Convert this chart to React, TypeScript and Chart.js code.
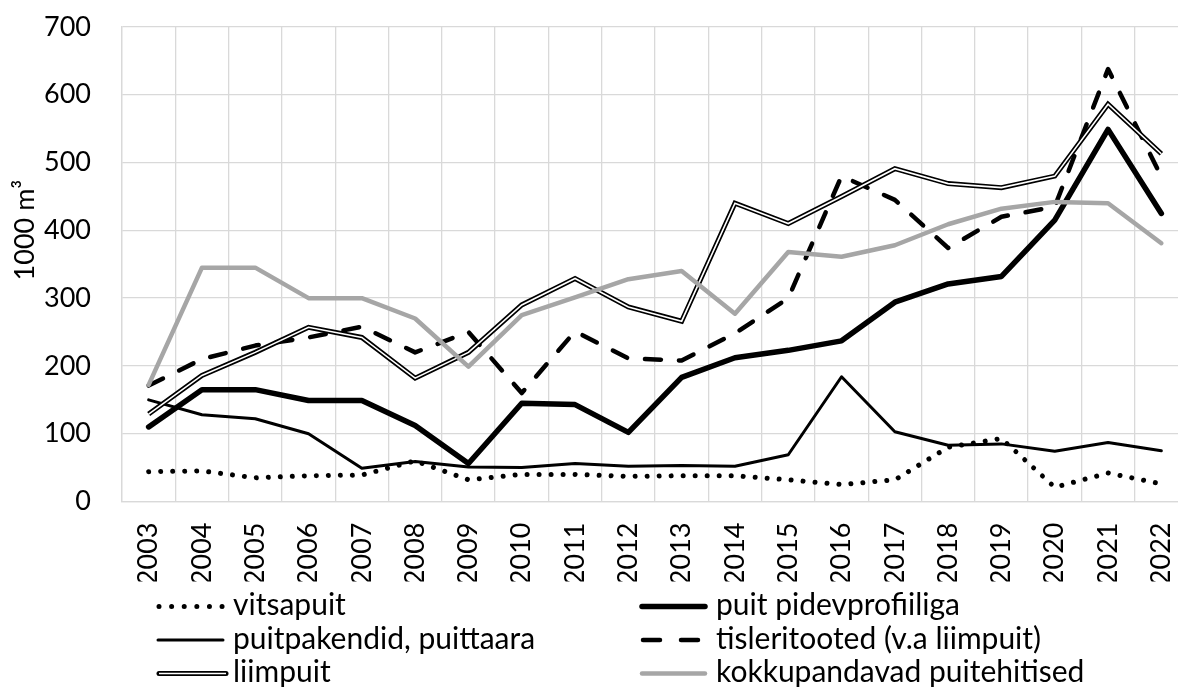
import React, { useEffect, useRef } from "react";
import { Chart, registerables } from "chart.js";

Chart.register(...registerables);

const years = ["2003","2004","2005","2006","2007","2008","2009","2010","2011","2012","2013","2014","2015","2016","2017","2018","2019","2020","2021","2022"];
const vitsapuit = [44, 45, 35, 38, 39, 60, 32, 40, 40, 37, 38, 38, 32, 25, 32, 80, 93, 21, 42, 26];
const puitPidevprofiiliga = [110, 165, 165, 149, 149, 112, 56, 145, 143, 102, 183, 212, 223, 237, 294, 321, 332, 415, 549, 425];
const puitpakendid = [150, 128, 122, 100, 49, 59, 51, 50, 56, 52, 53, 52, 69, 184, 103, 83, 85, 74, 87, 75];
const tisleritooted = [171, 210, 230, 242, 258, 220, 250, 160, 251, 211, 208, 248, 300, 480, 445, 374, 420, 435, 638, 479];
const liimpuit = [129, 186, 220, 257, 242, 182, 220, 290, 329, 287, 266, 440, 410, 450, 491, 469, 463, 480, 586, 513];
const kokkupandavad = [172, 345, 345, 300, 300, 270, 199, 275, 301, 328, 340, 277, 368, 361, 378, 409, 432, 442, 440, 381];
const yTicks = [0, 100, 200, 300, 400, 500, 600, 700];
const yTitle = "1000 m³";

const FONT = "Lato, 'Noto Sans', sans-serif";

type LegendSpec = { label: string; kind: string };
const legendItems: LegendSpec[] = [
  { label: "vitsapuit", kind: "dot" },
  { label: "puit pidevprofiiliga", kind: "thick" },
  { label: "puitpakendid, puittaara", kind: "thin" },
  { label: "tisleritooted (v.a liimpuit)", kind: "dash" },
  { label: "liimpuit", kind: "double" },
  { label: "kokkupandavad puitehitised", kind: "grey" },
];

const customPlugin = {
  id: "customDecor",
  afterDraw(chart: any) {
    const ctx = chart.ctx as CanvasRenderingContext2D;
    ctx.save();
    ctx.translate(25, 230);
    ctx.rotate(-Math.PI / 2);
    ctx.fillStyle = "#000";
    ctx.font = `27px ${FONT}`;
    ctx.textAlign = "center";
    ctx.textBaseline = "middle";
    ctx.fillText(yTitle, 0, 0);
    ctx.restore();

    const colX = [157, 640];
    const rowBase = [615, 648.5, 682];
    legendItems.forEach((item, i) => {
      const col = i % 2;
      const row = Math.floor(i / 2);
      const x0 = colX[col];
      const x1 = x0 + 67;
      const yl = rowBase[row] - 8.5;
      ctx.save();
      ctx.lineJoin = "miter";
      const seg = (color: string, w: number, dash: number[], cap: CanvasLineCap, a = x0, b = x1) => {
        ctx.beginPath();
        ctx.strokeStyle = color;
        ctx.lineWidth = w;
        ctx.setLineDash(dash);
        ctx.lineCap = cap;
        ctx.moveTo(a, yl);
        ctx.lineTo(b, yl);
        ctx.stroke();
      };
      if (item.kind === "dot") seg("#000", 5, [0.01, 12.6], "round", x0 + 2, x1);
      if (item.kind === "thick") seg("#000", 5.5, [], "round", x0 + 2, x1 - 2);
      if (item.kind === "thin") seg("#000", 3, [], "round", x0 + 1, x1 - 1);
      if (item.kind === "dash") seg("#000", 4.5, [17, 21], "round", x0 + 3, x1);
      if (item.kind === "double") {
        seg("#000", 5, [], "round", x0 + 2, x1 + 2);
        seg("#fff", 1.6, [], "butt", x0 + 2, x1 + 2);
      }
      if (item.kind === "grey") seg("#A6A6A6", 4.5, [], "round", x0 + 2, x1 - 2);
      ctx.restore();
      ctx.save();
      ctx.fillStyle = "#000";
      ctx.font = `30px ${FONT}`;
      ctx.textAlign = "left";
      ctx.textBaseline = "alphabetic";
      ctx.fillText(item.label, x0 + 76, rowBase[row]);
      ctx.restore();
    });
  },
};

export default function App() {
  const ref = useRef<HTMLCanvasElement | null>(null);
  useEffect(() => {
    if (!ref.current) return;
    const base = { pointRadius: 0, pointHoverRadius: 0, fill: false, tension: 0 };
    const chart = new Chart(ref.current, {
      type: "line",
      data: {
        labels: years,
        datasets: [
          { ...base, label: "vitsapuit", data: vitsapuit, borderColor: "#000", borderWidth: 5, borderDash: [0.01, 12], borderCapStyle: "round", borderJoinStyle: "round", order: 6 },
          { ...base, label: "puit pidevprofiiliga", data: puitPidevprofiiliga, borderColor: "#000", borderWidth: 5.5, borderCapStyle: "round", borderJoinStyle: "round", order: 5 },
          { ...base, label: "puitpakendid, puittaara", data: puitpakendid, borderColor: "#000", borderWidth: 3, borderCapStyle: "round", borderJoinStyle: "round", order: 4 },
          { ...base, label: "tisleritooted (v.a liimpuit)", data: tisleritooted, borderColor: "#000", borderWidth: 4.5, borderDash: [16, 18], borderCapStyle: "round", borderJoinStyle: "round", order: 3 },
          { ...base, label: "liimpuit", data: liimpuit, borderColor: "#000", borderWidth: 5, borderJoinStyle: "miter", order: 2 },
          { ...base, label: "liimpuit-inner", data: liimpuit, borderColor: "#fff", borderWidth: 1.6, borderJoinStyle: "miter", order: 1.5 },
          { ...base, label: "kokkupandavad puitehitised", data: kokkupandavad, borderColor: "#A6A6A6", borderWidth: 4.5, borderCapStyle: "round", borderJoinStyle: "round", order: 1 },
        ],
      },
      options: {
        animation: false,
        responsive: false,
        devicePixelRatio: 1,
        events: [],
        layout: { padding: { top: 27, bottom: 107.5, left: 0, right: 0 } },
        plugins: { legend: { display: false }, tooltip: { enabled: false }, title: { display: false } },
        scales: {
          x: {
            type: "category",
            offset: true,
            grid: { offset: true, color: "#D9D9D9", lineWidth: 1.3, drawTicks: false },
            border: { color: "#D9D9D9", width: 1.3 },
            ticks: { color: "#000", font: { family: FONT, size: 27 }, minRotation: 90, maxRotation: 90, padding: 21, autoSkip: false },
            afterFit: (s: any) => { s.height = 80; s.paddingLeft = 0; s.paddingRight = 0; },
          },
          y: {
            min: 0,
            max: 700,
            grid: { color: "#D9D9D9", lineWidth: 1.3, drawTicks: false },
            border: { color: "#D9D9D9", width: 1.3 },
            ticks: { color: "#000", font: { family: FONT, size: 27 }, padding: 31, stepSize: 100, callback: (v: any) => (yTicks.includes(Number(v)) ? String(v) : "") },
            afterFit: (s: any) => { s.width = 122; s.paddingTop = 0; s.paddingBottom = 0; },
          },
        },
      },
      plugins: [customPlugin],
    } as any);
    return () => chart.destroy();
  }, []);
  return (
    <div style={{ position: "fixed", left: 0, top: 0, width: 1178, height: 689, overflow: "hidden", background: "#fff" }}>
      <canvas ref={ref} width={1188} height={689} style={{ width: 1188, height: 689, display: "block" }} />
    </div>
  );
}
